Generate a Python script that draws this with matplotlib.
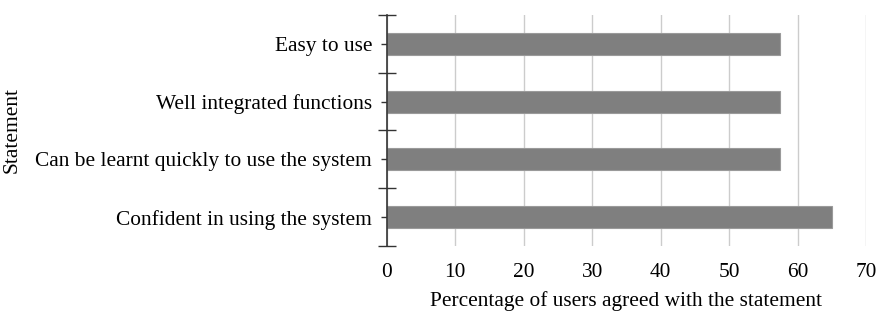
import matplotlib
matplotlib.use("Agg")
import matplotlib.pyplot as plt
import numpy as np

statements = ["Confident in using the system",
              "Can be learnt quickly to use the system",
              "Well integrated functions",
              "Easy to use"]
percentages = [65.0, 57.5, 57.5, 57.5]
x_ticks = [0, 10, 20, 30, 40, 50, 60, 70]

plt.rcParams['font.family'] = ['Liberation Serif', 'DejaVu Serif']
FS = 15.4

fig = plt.figure(figsize=(8.77, 3.11), dpi=100)
ax = fig.add_axes([0.441, 0.209, 0.5465, 0.743])

y = np.arange(len(statements))
ax.barh(y, percentages, height=0.38, color='#7f7f7f', edgecolor='#9a9a9a', linewidth=0.8, zorder=3)

ax.set_xlim(0, 70)
ax.set_ylim(-0.5, len(statements) - 0.5)
ax.set_xticks(x_ticks)
ax.set_xticklabels([str(v) for v in x_ticks], fontsize=FS)
ax.set_yticks(y)
ax.set_yticklabels(statements, fontsize=FS)
ax.set_yticks(np.arange(-0.5, len(statements), 1.0), minor=True)

ax.grid(axis='x', color='#cccccc', linewidth=1.0, zorder=0)
ax.yaxis.grid(False)

for s in ['top', 'right', 'bottom']:
    ax.spines[s].set_visible(False)
ax.spines['left'].set_color('#333333')
ax.spines['left'].set_linewidth(1.2)
ax.spines['left'].set_zorder(4)

ax.tick_params(axis='x', length=0, pad=12)
ax.tick_params(axis='y', which='major', direction='inout', length=9, width=1, color='#333333', pad=6)
ax.tick_params(axis='y', which='minor', direction='inout', length=13, width=1, color='#333333')

ax.set_xlabel("Percentage of users agreed with the statement", fontsize=FS, labelpad=7)
ax.set_ylabel("Statement", fontsize=FS, labelpad=10)

fig.savefig("out.png", dpi=100)
